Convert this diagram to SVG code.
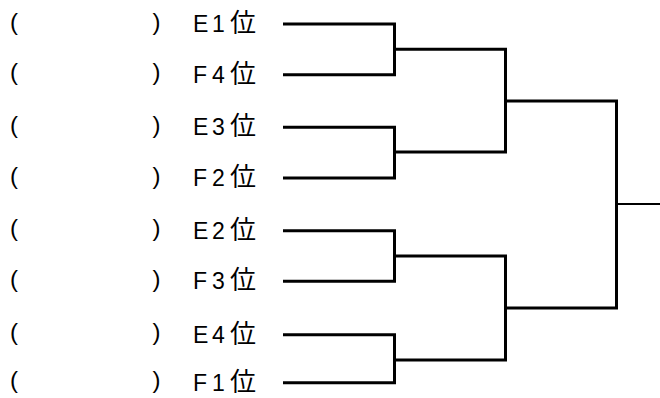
<svg xmlns="http://www.w3.org/2000/svg" width="660" height="398" viewBox="0 0 660 398">
<style>
.t{font-family:"Liberation Sans","Noto Sans CJK JP",sans-serif;font-size:23px;fill:#000}
.k{font-family:"Noto Sans CJK JP",sans-serif;font-size:26px}
.p{font-family:"Liberation Sans",sans-serif;font-size:24px;fill:#000}
.c{fill:none;stroke:#000;stroke-width:3;stroke-linejoin:miter;stroke-linecap:butt}
.o{fill:none;stroke:#000;stroke-width:2}
</style>
<rect width="660" height="398" fill="#fff"/>
<g id="n1"><text class="p" x="10" y="29.6">(</text><text class="p" x="152.5" y="29.6">)</text><text class="t" y="32"><tspan x="193">E</tspan><tspan x="212">1</tspan><tspan class="k" x="230">位</tspan></text></g>
<g id="n2"><text class="p" x="10" y="80.3">(</text><text class="p" x="152.5" y="80.3">)</text><text class="t" y="82.7"><tspan x="193">F</tspan><tspan x="212">4</tspan><tspan class="k" x="230">位</tspan></text></g>
<g id="n3"><text class="p" x="10" y="132.9">(</text><text class="p" x="152.5" y="132.9">)</text><text class="t" y="135.3"><tspan x="193">E</tspan><tspan x="212">3</tspan><tspan class="k" x="230">位</tspan></text></g>
<g id="n4"><text class="p" x="10" y="183.6">(</text><text class="p" x="152.5" y="183.6">)</text><text class="t" y="186"><tspan x="193">F</tspan><tspan x="212">2</tspan><tspan class="k" x="230">位</tspan></text></g>
<g id="n5"><text class="p" x="10" y="236.3">(</text><text class="p" x="152.5" y="236.3">)</text><text class="t" y="238.7"><tspan x="193">E</tspan><tspan x="212">2</tspan><tspan class="k" x="230">位</tspan></text></g>
<g id="n6"><text class="p" x="10" y="286.9">(</text><text class="p" x="152.5" y="286.9">)</text><text class="t" y="289.3"><tspan x="193">F</tspan><tspan x="212">3</tspan><tspan class="k" x="230">位</tspan></text></g>
<g id="n7"><text class="p" x="10" y="340.3">(</text><text class="p" x="152.5" y="340.3">)</text><text class="t" y="342.7"><tspan x="193">E</tspan><tspan x="212">4</tspan><tspan class="k" x="230">位</tspan></text></g>
<g id="n8"><text class="p" x="10" y="388.3">(</text><text class="p" x="152.5" y="388.3">)</text><text class="t" y="390.7"><tspan x="193">F</tspan><tspan x="212">1</tspan><tspan class="k" x="230">位</tspan></text></g>
<g id="connectors">
<path class="c" d="M283,24 H394.5 V74.7 H283"/>
<path class="c" d="M283,127.3 H394.5 V178 H283"/>
<path class="c" d="M283,230.7 H394.5 V281.3 H283"/>
<path class="c" d="M283,334.7 H394.5 V382.7 H283"/>
<path class="c" d="M394.5,49.3 H505.5 V152 H394.5"/>
<path class="c" d="M394.5,256 H505.5 V360 H394.5"/>
<path class="c" d="M505.5,101 H616.5 V308 H505.5"/>
<path class="o" d="M617,204 H660"/>
</g>
</svg>
